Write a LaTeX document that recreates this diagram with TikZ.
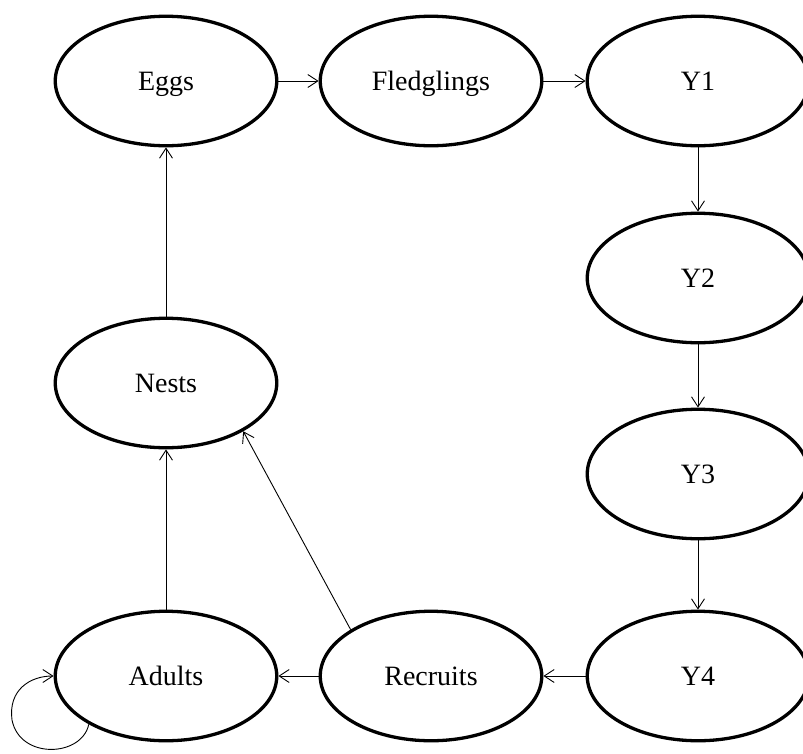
\documentclass[tikz,border=0pt]{standalone}
\usepackage{fontspec}
\setmainfont{Liberation Serif}
\usetikzlibrary{shapes.geometric,arrows.meta}
\tikzset{
  stage/.style={ellipse,draw,line width=3.3pt,minimum width=221.5pt,minimum height=129.5pt,inner sep=0pt,
    font=\fontsize{28}{32}\selectfont,text height=18.3pt,text depth=0pt},
  link/.style={line width=0.9pt,-{Straight Barb[length=10pt,width=13pt,line width=0.9pt]}}
}
\begin{document}
\begin{tikzpicture}[x=1pt,y=-1pt]
\useasboundingbox (0,0) rectangle (803,753);
\node[stage] (eggs) at (166,81) {Eggs};
\node[stage] (fled) at (431,81) {Fledglings};
\node[stage] (y1) at (698,81) {Y1};
\node[stage] (y2) at (698,278) {Y2};
\node[stage] (y3) at (698,474) {Y3};
\node[stage] (y4) at (698,676) {Y4};
\node[stage] (rec) at (431,676) {Recruits};
\node[stage] (adu) at (166,676) {Adults};
\node[stage] (nests) at (166,383) {Nests};
\draw[link] (eggs) -- (fled);
\draw[link] (fled) -- (y1);
\draw[link] (y1) -- (y2);
\draw[link] (y2) -- (y3);
\draw[link] (y3) -- (y4);
\draw[link] (y4) -- (rec);
\draw[link] (rec) -- (adu);
\draw[link] (adu) -- (nests);
\draw[link] (nests) -- (eggs);
\draw[link] (rec.150) -- (nests.-32);
\draw[link] (adu.212) .. controls (82,757) and (20,760) .. (12,720) .. controls (8,690) and (30,676) .. (adu.west);
\end{tikzpicture}
\end{document}
